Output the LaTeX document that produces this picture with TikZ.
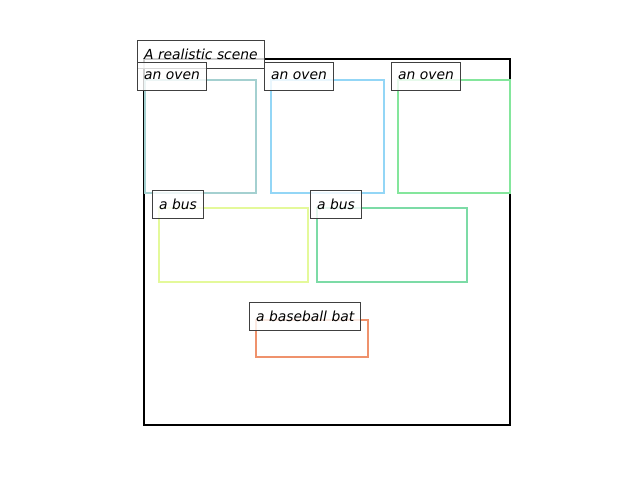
\documentclass[tikz,border=0pt]{standalone}
\usepackage{fontspec}
\usepackage{tikz}
\usetikzlibrary{positioning}
\newfontfamily\capfont{DejaVu Sans}
\definecolor{ovenA}{HTML}{A4D0D0}
\definecolor{ovenB}{HTML}{93D6F6}
\definecolor{ovenC}{HTML}{84E69C}
\definecolor{busA}{HTML}{E4F99A}
\definecolor{busB}{HTML}{7CDBA6}
\definecolor{batbox}{HTML}{EF926C}
\definecolor{edgegray}{HTML}{404040}
\tikzset{
  scene/.style={draw=black,line width=1.8pt},
  objbox/.style={line width=1.7pt},
  tag/.style={draw=edgegray,fill=white,fill opacity=0.8,text opacity=1,
    anchor=west,inner xsep=5pt,inner ysep=0pt,minimum height=21pt,
    line width=0.7pt,font=\capfont\itshape\fontsize{10.4}{12}\selectfont}
}
\begin{document}
\begin{tikzpicture}[x=0.75pt,y=-0.75pt]
  \useasboundingbox (0,0) rectangle (640,480);
  % outer frame
  \draw[scene] (144,59) rectangle (510,425);
  % detected objects
  \draw[objbox,draw=ovenA] (145,80) rectangle (256,193);
  \draw[objbox,draw=ovenB] (271,80) rectangle (384,193);
  \draw[objbox,draw=ovenC] (398,80) rectangle (510,193);
  \draw[objbox,draw=busA] (159,208) rectangle (308,282);
  \draw[objbox,draw=busB] (317,208) rectangle (467,282);
  \draw[objbox,draw=batbox] (256,320) rectangle (368,357);
  % captions
  \node[tag] (title) at (137,54) {A realistic scene};
  \node[tag] (oven1) at (137,76) {an oven};
  \node[tag] (oven2) at (264,76) {an oven};
  \node[tag] (oven3) at (391,76) {an oven};
  \node[tag] (bus1) at (152,204) {a bus};
  \node[tag] (bus2) at (310,204) {a bus};
  \node[tag] (bat) at (249,316) {a baseball bat};
\end{tikzpicture}
\end{document}
